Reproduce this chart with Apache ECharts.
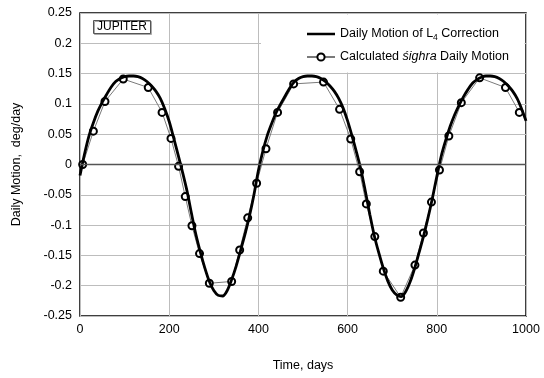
<!DOCTYPE html>
<html>
<head>
<meta charset="utf-8">
<script src="https://cdn.jsdelivr.net/npm/echarts@6/dist/echarts.min.js"></script>
<style>
  html, body { margin: 0; padding: 0; background: #fff; }
  #chart { width: 544px; height: 378px; }
</style>
</head>
<body>
<div id="chart"></div>
<script>
// L4 correction daily motion, every 10 days
var curveDays = [0,10,20,30,40,50,60,70,80,90,100,110,120,130,140,150,160,170,180,190,
  200,210,220,230,240,250,260,270,280,290,300,310,320,330,340,350,360,370,380,390,
  400,410,420,430,440,450,460,470,480,490,500,510,520,530,540,550,560,570,580,590,
  600,610,620,630,640,650,660,670,680,690,700,710,720,730,740,750,760,770,780,790,
  800,810,820,830,840,850,860,870,880,890,900,910,920,930,940,950,960,970,980,990,1000];
var curveValues = [-0.018,0.017,0.047,0.069,0.088,0.103,0.116,0.128,0.137,0.142,
  0.145,0.146,0.146,0.145,0.142,0.137,0.130,0.121,0.109,0.092,
  0.071,0.044,0.016,-0.013,-0.044,-0.081,-0.116,-0.145,-0.171,-0.193,
  -0.208,-0.216,-0.217,-0.208,-0.190,-0.168,-0.142,-0.115,-0.085,-0.050,
  -0.010,0.022,0.048,0.068,0.086,0.100,0.113,0.126,0.136,0.142,
  0.145,0.146,0.146,0.145,0.142,0.137,0.130,0.121,0.109,0.093,
  0.072,0.047,0.020,-0.009,-0.045,-0.083,-0.118,-0.146,-0.171,-0.192,
  -0.207,-0.215,-0.218,-0.210,-0.194,-0.172,-0.146,-0.119,-0.089,-0.056,
  -0.020,0.014,0.040,0.063,0.082,0.098,0.112,0.124,0.134,0.140,
  0.144,0.146,0.146,0.145,0.142,0.137,0.130,0.121,0.109,0.092,0.072];

// calculated sighra daily motion (circles)
var sighraDays = [6,30,56,97,153,184,204,221,236,251,268,290,340,358,376,396,417,443,479,
  546,582,607,627,642,661,680,719,751,770,788,806,827,855,896,954,985];
var sighraValues = [0,0.055,0.104,0.141,0.127,0.086,0.043,-0.003,-0.053,-0.101,-0.147,-0.196,
  -0.193,-0.141,-0.088,-0.031,0.026,0.086,0.133,
  0.136,0.091,0.042,-0.012,-0.065,-0.119,-0.176,-0.219,-0.166,-0.113,-0.062,-0.009,
  0.047,0.102,0.143,0.127,0.086];

var xTicks = [0, 200, 400, 600, 800, 1000];
var yTicks = [-0.25, -0.2, -0.15, -0.1, -0.05, 0, 0.05, 0.1, 0.15, 0.2, 0.25];

var nameL4 = 'Daily Motion of L4 Correction';
var nameSighra = 'Calculated sighra Daily Motion';

function pairs(xs, ys) {
  var out = [];
  for (var i = 0; i < xs.length; i++) out.push([xs[i], ys[i]]);
  return out;
}

var font = 'Liberation Sans, Arial, sans-serif';
var fs = 12.5;
var chart = echarts.init(document.getElementById('chart'));

var option = {
  animation: false,
  textStyle: { fontFamily: font },
  title: {
    text: 'JUPITER',
    left: 93, top: 20,
    padding: [1, 4],
    borderWidth: 1,
    borderColor: '#555',
    backgroundColor: '#fff',
    shadowColor: '#aaa', shadowOffsetX: 1, shadowOffsetY: 1,
    textStyle: { fontFamily: font, fontSize: 12, fontWeight: 'normal', color: '#000' }
  },
  graphic: [{
    type: 'rect', z: 1,
    shape: { x: 261, y: 14.5, width: 263.5, height: 58 },
    style: { fill: '#fff' }
  }],
  legend: {
    orient: 'vertical',
    left: 301, top: 21,
    itemWidth: 28, itemHeight: 9, itemGap: 7,
    data: [
      { name: nameL4, icon: 'path://M0,0L28,0L28,0.01L0,0.01Z M0,3.2L28,3.2L28,5.8L0,5.8Z M0,8.99L28,8.99L28,9L0,9Z',
        itemStyle: { color: '#000', borderWidth: 0 } },
      { name: nameSighra }
    ],
    formatter: function (n) {
      return n === nameL4 ? 'Daily Motion of L{sub|4} Correction'
                          : 'Calculated {it|śighra} Daily Motion';
    },
    textStyle: {
      fontFamily: font, fontSize: fs, color: '#000', lineHeight: 16,
      rich: {
        sub: { fontSize: 8.5, fontFamily: font, verticalAlign: 'bottom', lineHeight: 16 },
        it: { fontStyle: 'italic', fontSize: fs, fontFamily: font }
      }
    }
  },
  grid: {
    left: 80, right: 18, top: 13, bottom: 62,
    show: true, borderColor: '#000', borderWidth: 1.5, backgroundColor: 'transparent'
  },
  xAxis: {
    type: 'value', min: 0, max: 1000, interval: 200,
    name: 'Time, days', nameLocation: 'middle', nameGap: 43,
    nameTextStyle: { fontFamily: font, fontSize: fs, color: '#000' },
    axisLine: { show: false }, axisTick: { show: false },
    axisLabel: {
      fontFamily: font, fontSize: fs, color: '#000', margin: 7,
      formatter: function (v) { return String(v); }
    },
    splitLine: { lineStyle: { color: '#bdbdbd', width: 1 } }
  },
  yAxis: {
    type: 'value', min: -0.25, max: 0.25, interval: 0.05,
    name: 'Daily Motion,  deg/day', nameLocation: 'middle', nameGap: 57,
    nameTextStyle: { fontFamily: font, fontSize: fs, color: '#000' },
    axisLine: { show: false }, axisTick: { show: false },
    axisLabel: {
      fontFamily: font, fontSize: fs, color: '#000', margin: 8,
      formatter: function (v) { return String(Number(v.toFixed(2))); }
    },
    splitLine: { lineStyle: { color: '#bdbdbd', width: 1 } }
  },
  series: [
    {
      name: nameSighra,
      type: 'line',
      data: pairs(sighraDays, sighraValues),
      symbol: 'emptyCircle', symbolSize: 7,
      showAllSymbol: true,
      itemStyle: { color: '#000', borderWidth: 1 },
      lineStyle: { color: '#7a7a7a', width: 1 },
      z: 3,
      markLine: {
        silent: true, symbol: 'none', label: { show: false },
        lineStyle: { color: '#555', width: 1.3, type: 'solid' },
        data: [{ yAxis: 0 }]
      }
    },
    {
      name: nameL4,
      type: 'line',
      data: pairs(curveDays, curveValues),
      showSymbol: false, symbol: 'none',
      smooth: 0.3,
      itemStyle: { color: '#000' },
      lineStyle: { color: '#000', width: 2.8 },
      z: 4
    }
  ]
};
chart.setOption(option);
window.addEventListener('resize', chart.resize);
</script>
</body>
</html>
